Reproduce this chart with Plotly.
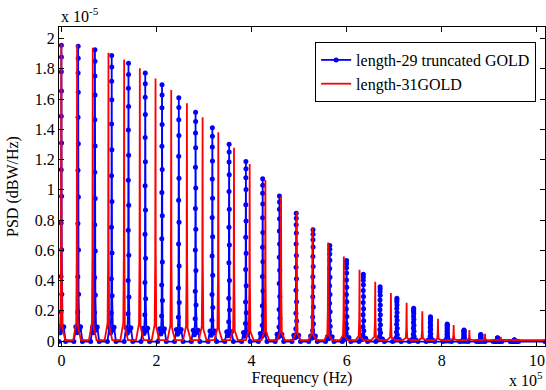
import plotly.graph_objects as go

# ---- data (frequencies in Hz, PSD in units of 1e-5) ----
blue_peak_freq = [0, 35276, 70552, 105828, 141104, 176380, 211656, 246932, 282208,
                  317484, 352760, 388036, 423312, 458588, 493864, 529140, 564416,
                  599692, 634968, 670244, 705520, 740796, 776072, 811348, 846624,
                  881900, 917176, 952452]
blue_peak_psd = [1.960, 1.952, 1.930, 1.892, 1.840, 1.776, 1.699, 1.612, 1.516, 1.414,
                 1.305, 1.191, 1.077, 0.962, 0.849, 0.740, 0.636, 0.537, 0.445, 0.362,
                 0.287, 0.221, 0.164, 0.116, 0.077, 0.047, 0.025, 0.011]

red_peak_freq = [0, 33000, 66000, 99000, 132000, 165000, 198000, 231000, 264000, 297000,
                 330000, 363000, 396000, 429000, 462000, 495000, 528000, 561000, 594000,
                 627000, 660000, 693000, 726000, 759000, 792000, 825000, 858000, 891000,
                 924000, 957000, 990000]
red_peak_psd = [1.960, 1.953, 1.933, 1.900, 1.855, 1.798, 1.730, 1.653, 1.566, 1.473,
                1.374, 1.271, 1.165, 1.058, 0.951, 0.846, 0.744, 0.645, 0.552, 0.465,
                0.385, 0.312, 0.247, 0.190, 0.141, 0.100, 0.067, 0.041, 0.022, 0.009, 0.002]

# sampled shape of one spectral line (offset from line centre in Hz, fraction of peak)
blue_shape_offset = [-9000, -5000, -2500, -900, -700, -500, -350, -200, -100, 0,
                     100, 200, 350, 500, 700, 900, 2500, 5000, 9000]
blue_shape_frac = [0.0, 0.05, 0.03, 0.10, 0.22, 0.40, 0.58, 0.76, 0.91, 1.0,
                   0.96, 0.845, 0.67, 0.49, 0.31, 0.16, 0.04, 0.05, 0.0]
red_shape_offset = [-8000, -4000, -1800, -700, 0, 400, 1500, 4000, 8000]
red_shape_frac = [0.0, 0.04, 0.06, 0.30, 1.0, 0.35, 0.05, 0.03, 0.0]

blue_floor = -0.004
red_floor = 0.006
freq_start = -5000
freq_end = 1017000

x_ticks = [0, 200000, 400000, 600000, 800000, 1000000]
x_tick_text = ["0", "2", "4", "6", "8", "10"]
y_ticks = [0, 0.2, 0.4, 0.6, 0.8, 1.0, 1.2, 1.4, 1.6, 1.8, 2.0]
y_tick_text = ["0", "0.2", "0.4", "0.6", "0.8", "1", "1.2", "1.4", "1.6", "1.8", "2"]


def build(freqs, psds, offs, fracs, floor):
    xs, ys = [freq_start], [floor]
    for f, h in zip(freqs, psds):
        for o, fr in zip(offs, fracs):
            xs.append(f + o)
            ys.append(floor + h * fr)
    xs.append(freq_end)
    ys.append(floor)
    return xs, ys


bx, by = build(blue_peak_freq, blue_peak_psd, blue_shape_offset, blue_shape_frac, blue_floor)
rx, ry = build(red_peak_freq, red_peak_psd, red_shape_offset, red_shape_frac, red_floor)

font_family = "Times New Roman, Liberation Serif, serif"
fs = 16

fig = go.Figure()
fig.add_trace(go.Scatter(x=bx, y=by, mode="lines+markers", name="length-29 truncated GOLD",
                         line=dict(color="#0000ff", width=1.8),
                         marker=dict(color="#0000ff", size=5)))
fig.add_trace(go.Scatter(x=rx, y=ry, mode="lines", name="length-31GOLD",
                         line=dict(color="#ff0000", width=1.8)))

axis_common = dict(showline=True, linecolor="black", linewidth=1, mirror="ticks",
                   ticks="inside", ticklen=5, tickcolor="black", showgrid=False,
                   zeroline=False, automargin=False,
                   tickfont=dict(family=font_family, size=fs, color="black"))

fig.update_layout(
    width=546, height=390,
    margin=dict(l=59, r=1, t=27, b=44, autoexpand=False),
    paper_bgcolor="white", plot_bgcolor="white",
    font=dict(family=font_family, size=fs, color="black"),
    xaxis=dict(range=[-5000, 1017000], tickvals=x_ticks, ticktext=x_tick_text,
               title=dict(text="Frequency (Hz)", standoff=0,
                          font=dict(family=font_family, size=fs)), **axis_common),
    yaxis=dict(range=[-0.033, 2.076], tickvals=y_ticks, ticktext=y_tick_text,
               title=dict(text="PSD (dBW/Hz)", standoff=12,
                          font=dict(family=font_family, size=fs)), **axis_common),
    legend=dict(x=0.527, y=0.953, xanchor="left", yanchor="top",
                bgcolor="white", bordercolor="black", borderwidth=1,
                font=dict(family=font_family, size=fs), tracegroupgap=0),
    showlegend=True,
)

fig.add_annotation(text="x 10<sup>-5</sup>", xref="paper", yref="paper", x=0.0, y=1.0,
                   xanchor="left", yanchor="bottom", showarrow=False,
                   font=dict(family=font_family, size=fs))
fig.add_annotation(text="x 10<sup>5</sup>", xref="paper", yref="paper", x=1.0, y=-0.065,
                   xanchor="right", yanchor="top", showarrow=False,
                   font=dict(family=font_family, size=fs))

fig.write_html("out.html", config={"displayModeBar": False},
               post_script="document.body.style.margin='0px';document.body.style.overflow='hidden';")
